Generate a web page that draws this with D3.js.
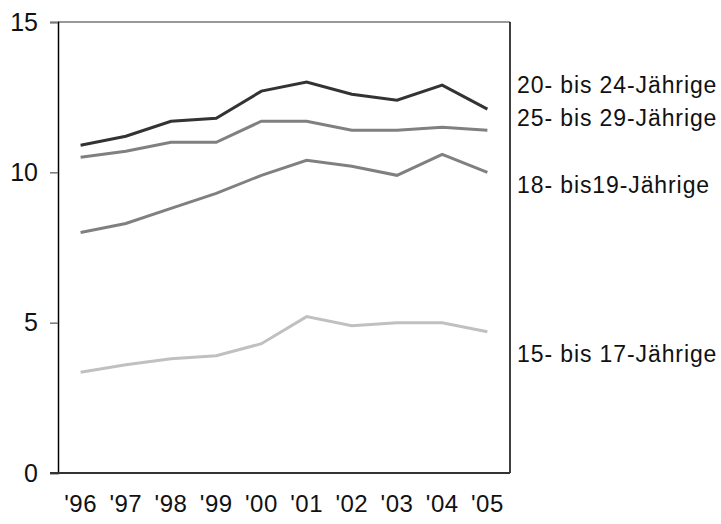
<!DOCTYPE html>
<html>
<head>
<meta charset="utf-8">
<script src="https://cdn.jsdelivr.net/npm/d3@7"></script>
<style>
  body { margin: 0; background: #fff; }
  text { font-family: "Liberation Sans", Arial, sans-serif; fill: #111; }
</style>
</head>
<body>
<svg id="chart" width="721" height="524"></svg>
<script>
// years on the x axis
const years = ["'96", "'97", "'98", "'99", "'00", "'01", "'02", "'03", "'04", "'05"];
const yTicks = [0, 5, 10, 15];

// values per age group
const age20to24 = [10.9, 11.2, 11.7, 11.8, 12.7, 13.0, 12.6, 12.4, 12.9, 12.1];
const age25to29 = [10.5, 10.7, 11.0, 11.0, 11.7, 11.7, 11.4, 11.4, 11.5, 11.4];
const age18to19 = [8.0, 8.3, 8.8, 9.3, 9.9, 10.4, 10.2, 9.9, 10.6, 10.0];
const age15to17 = [3.35, 3.6, 3.8, 3.9, 4.3, 5.2, 4.9, 5.0, 5.0, 4.7];

const labels = ["20- bis 24-Jährige", "25- bis 29-Jährige", "18- bis19-Jährige", "15- bis 17-Jährige"];

const series = [
    {name: labels[0], values: age20to24, color: "#333333", labelY: 85},
    {name: labels[1], values: age25to29, color: "#808080", labelY: 118},
    {name: labels[2], values: age18to19, color: "#808080", labelY: 185},
    {name: labels[3], values: age15to17, color: "#c0c0c0", labelY: 354}
];

const svg = d3.select("#chart");
const plotLeft = 58, plotRight = 510, plotTop = 22, plotBottom = 473;

let x = d3.scaleBand().domain(years).range([plotLeft, plotRight]);
let y = d3.scaleLinear().domain([0, 15]).range([plotBottom, plotTop]);

// frame
svg.append("line").attr("x1", plotLeft).attr("x2", plotRight).attr("y1", plotTop).attr("y2", plotTop)
    .attr("stroke", "#777").attr("stroke-width", 1.5);
svg.append("line").attr("x1", plotRight).attr("x2", plotRight).attr("y1", plotTop).attr("y2", plotBottom)
    .attr("stroke", "#000").attr("stroke-width", 1.5);

// y axis
let yAxis = d3.axisLeft(y).tickValues(yTicks).tickSize(8).tickPadding(12);
let gy = svg.append("g").attr("transform", `translate(${plotLeft},0)`).call(yAxis);
gy.select(".domain").attr("stroke", "#000").attr("stroke-width", 1.5);
gy.selectAll(".tick line").attr("stroke", "#777").attr("stroke-width", 1.5);
gy.selectAll(".tick text").attr("font-size", 25).attr("fill", "#111")
    .attr("font-family", "Liberation Sans, Arial, sans-serif");

// bottom line
svg.append("line").attr("x1", plotLeft - 8).attr("x2", plotRight).attr("y1", plotBottom).attr("y2", plotBottom)
    .attr("stroke", "#333").attr("stroke-width", 2);

// x labels
let xAxis = d3.axisBottom(x).tickSize(0).tickPadding(22);
let gx = svg.append("g").attr("transform", `translate(0,${plotBottom})`).call(xAxis);
gx.select(".domain").remove();
gx.selectAll(".tick text").attr("font-size", 24).attr("fill", "#111")
    .attr("letter-spacing", 0.5)
    .attr("font-family", "Liberation Sans, Arial, sans-serif");

let line = d3.line()
    .x((d, i) => x(years[i]) + x.bandwidth() / 2)
    .y(d => y(d));

svg.selectAll(".series").data(series).enter()
    .append("path")
    .attr("class", "series")
    .attr("d", d => line(d.values))
    .attr("fill", "none")
    .attr("stroke", d => d.color)
    .attr("stroke-width", 3);

svg.selectAll(".label").data(series).enter()
    .append("text")
    .attr("class", "label")
    .attr("x", 517)
    .attr("y", d => d.labelY)
    .attr("dy", "0.35em")
    .attr("font-size", 23)
    .attr("letter-spacing", 0.9)
    .text(d => d.name);
</script>
</body>
</html>
